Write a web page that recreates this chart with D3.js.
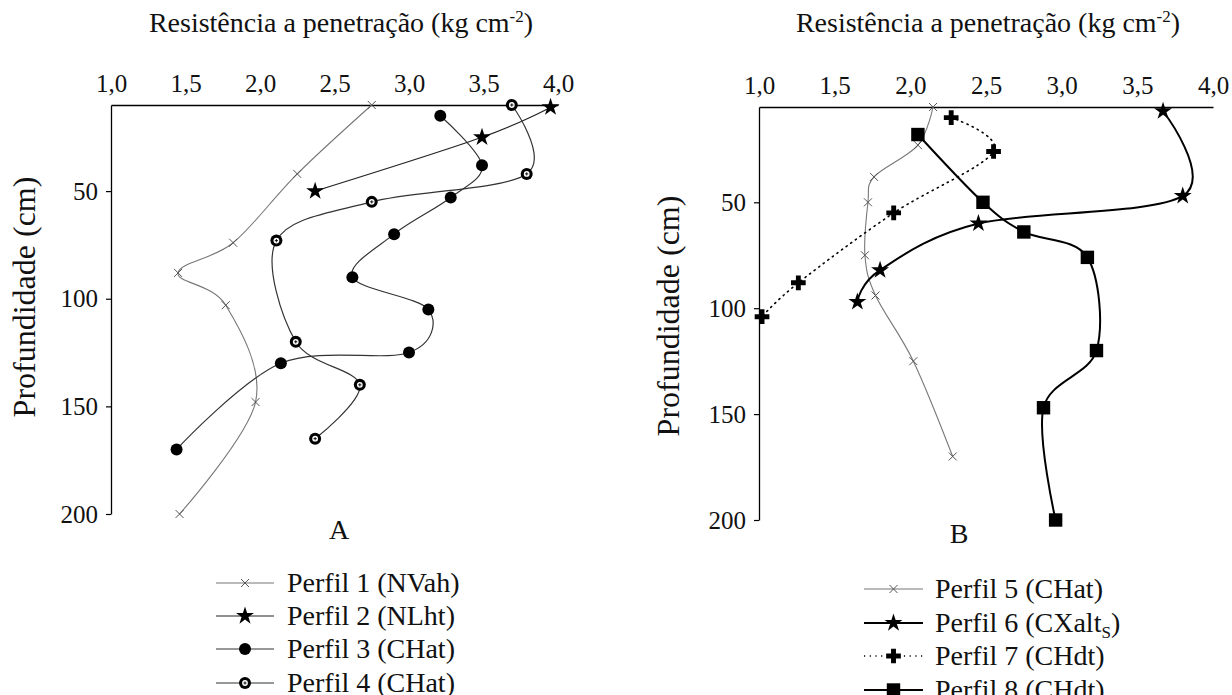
<!DOCTYPE html>
<html>
<head>
<meta charset="utf-8">
<script src="https://cdn.jsdelivr.net/npm/d3@7/dist/d3.min.js"></script>
<style>
  html, body { margin: 0; padding: 0; background: #fff; }
  svg, svg text { font-family: "Liberation Serif", "Times New Roman", Times, "DejaVu Serif", serif !important; }
</style>
</head>
<body>
<svg id="chart" width="1232" height="695"></svg>
<script>
// ---- data ----
const xTicks = [1.0, 1.5, 2.0, 2.5, 3.0, 3.5, 4.0];
const yTicks = [50, 100, 150, 200];
const xTitle = "Resistência a penetração (kg cm";
const yTitle = "Profundidade (cm)";

// Panel A
const p1Resist = [2.75, 2.25, 1.82, 1.45, 1.77, 1.97, 1.46];
const p1Depth  = [10, 42, 74, 88, 103, 148, 200];
const p2Resist = [3.95, 3.49, 2.37];
const p2Depth  = [11, 25, 50];
const p3Resist = [3.21, 3.49, 3.28, 2.90, 2.62, 3.13, 3.00, 2.14, 1.44];
const p3Depth  = [15, 38, 53, 70, 90, 105, 125, 130, 170];
const p4Resist = [3.69, 3.79, 2.75, 2.11, 2.24, 2.67, 2.37];
const p4Depth  = [10, 42, 55, 73, 120, 140, 165];

// Panel B
const p5Resist = [2.15, 2.05, 1.76, 1.72, 1.70, 1.77, 2.02, 2.28];
const p5Depth  = [5, 23, 38, 50, 75, 94, 125, 170];
const p6Resist = [3.67, 3.80, 2.45, 1.80, 1.65];
const p6Depth  = [7, 47, 60, 82, 97];
const p7Resist = [2.27, 2.55, 1.89, 1.26, 1.02];
const p7Depth  = [10, 26, 55, 88, 104];
const p8Resist = [2.05, 2.48, 2.75, 3.17, 3.23, 2.88, 2.96];
const p8Depth  = [18, 50, 64, 76, 120, 147, 200];

const namesA = ["Perfil 1 (NVah)", "Perfil 2 (NLht)", "Perfil 3 (CHat)", "Perfil 4 (CHat)"];
const namesB = ["Perfil 5 (CHat)", "Perfil 6 (CXalt", "Perfil 7 (CHdt)", "Perfil 8 (CHdt)"];

// ---- styles ----
const FONT = "'Liberation Serif', 'Times New Roman', Times, 'DejaVu Serif', serif";
const styles = {
  x:      { stroke: "#777", width: 1.1, dash: null, marker: "x" },
  star:   { stroke: "#222", width: 1.2, dash: null, marker: "star" },
  dot:    { stroke: "#333", width: 1.2, dash: null, marker: "dot" },
  ring:   { stroke: "#333", width: 1.2, dash: null, marker: "ring" },
  x5:     { stroke: "#777", width: 1.1, dash: null, marker: "x" },
  star6:  { stroke: "#000", width: 2.0, dash: null, marker: "star" },
  cross7: { stroke: "#000", width: 1.6, dash: "1.2,4.5", marker: "cross" },
  sq8:    { stroke: "#000", width: 2.0, dash: null, marker: "square" }
};

const svg = d3.select("#chart");
svg.append("rect").attr("width", 1232).attr("height", 695).attr("fill", "#fff");

const fmt = d => d.toFixed(1).replace(".", ",");

function drawMarker(g, type, cx, cy) {
  const m = g.append("g").attr("transform", `translate(${cx},${cy})`);
  if (type === "x") {
    m.append("path").attr("d", "M-4,-4L4,4M4,-4L-4,4")
      .attr("stroke", "#555").attr("stroke-width", 1).attr("fill", "none");
  } else if (type === "star") {
    m.append("path").attr("d", d3.symbol(d3.symbolStar, 100)()).attr("fill", "#000");
  } else if (type === "dot") {
    m.append("circle").attr("r", 6).attr("fill", "#000");
  } else if (type === "ring") {
    m.append("circle").attr("r", 6).attr("fill", "#000");
    m.append("circle").attr("r", 2.9).attr("fill", "#fff");
    m.append("path").attr("d", "M-1.6,0L1.6,0M0,-1.6L0,1.6").attr("stroke", "#000").attr("stroke-width", 0.9);
  } else if (type === "cross") {
    m.append("path").attr("d", d3.symbol(d3.symbolCross, 120)()).attr("fill", "#000");
  } else if (type === "square") {
    m.append("path").attr("d", d3.symbol(d3.symbolSquare, 180)()).attr("fill", "#000");
  }
}

function panel(opts) {
  const x = d3.scaleLinear().domain([1, 4]).range([opts.left, opts.right]);
  const y = d3.scaleLinear().domain([opts.dmin, 200]).range([opts.top, opts.bottom]);
  const g = svg.append("g").attr("font-family", FONT);

  // top axis
  const ax = g.append("g").attr("transform", `translate(0,${opts.top})`)
    .call(d3.axisTop(x).tickValues(xTicks).tickFormat(fmt).tickSize(0).tickSizeOuter(0).tickPadding(13));
  ax.attr("font-family", FONT);
  ax.select(".domain").attr("stroke", "#000").attr("stroke-width", 1.3);
  ax.selectAll("text").attr("font-size", 25).attr("fill", "#111").attr("font-family", FONT);

  // left axis
  const ay = g.append("g").attr("transform", `translate(${opts.left},0)`)
    .call(d3.axisLeft(y).tickValues(yTicks).tickSize(5).tickSizeOuter(0).tickPadding(8));
  ay.attr("font-family", FONT);
  ay.select(".domain").attr("stroke", "#000").attr("stroke-width", 1.3);
  ay.selectAll(".tick line").attr("stroke", "#000").attr("stroke-width", 1.2);
  ay.selectAll("text").attr("font-size", 25).attr("fill", "#111").attr("font-family", FONT);

  // titles
  const t = g.append("text").attr("x", opts.titleX).attr("y", 32).attr("font-family", FONT)
    .attr("text-anchor", "middle").attr("font-size", 28).attr("fill", "#111");
  t.append("tspan").text(xTitle);
  t.append("tspan").attr("font-size", 17).attr("dy", -10).text("-2");
  t.append("tspan").attr("dy", 10).text(")");

  g.append("text").attr("font-family", FONT)
    .attr("transform", `translate(${opts.yLabelX},${opts.yLabelY}) rotate(-90)`)
    .attr("text-anchor", "middle").attr("font-size", 32).attr("fill", "#111")
    .text(yTitle);

  g.append("text").attr("x", opts.letterX).attr("y", opts.letterY).attr("font-family", FONT)
    .attr("text-anchor", "middle").attr("font-size", 28).attr("fill", "#111").text(opts.letter);

  const line = d3.line().x(d => x(d[0])).y(d => y(d[1])).curve(d3.curveCatmullRom.alpha(0));

  opts.series.forEach(s => {
    const pts = s.xs.map((v, i) => [v, s.ys[i]]);
    const st = styles[s.style];
    g.append("path").attr("d", line(pts)).attr("fill", "none")
      .attr("stroke", st.stroke).attr("stroke-width", st.width)
      .attr("stroke-dasharray", st.dash).attr("stroke-linecap", st.dash ? "round" : "butt");
    pts.forEach(p => drawMarker(g, st.marker, x(p[0]), y(p[1])));
  });

  // legend
  opts.series.forEach((s, i) => {
    const st = styles[s.style];
    const cy = opts.legY[i];
    g.append("line").attr("x1", opts.legX1).attr("x2", opts.legX2).attr("y1", cy).attr("y2", cy)
      .attr("stroke", st.stroke).attr("stroke-width", st.width).attr("stroke-dasharray", st.dash);
    drawMarker(g, st.marker, (opts.legX1 + opts.legX2) / 2, cy);
    const tx = g.append("text").attr("x", opts.legTextX).attr("y", cy + 9).attr("font-family", FONT)
      .attr("font-size", 28).attr("fill", "#111");
    tx.append("tspan").text(s.name);
    if (s.sub) {
      tx.append("tspan").attr("font-size", 17).attr("dy", 6).text(s.sub);
      tx.append("tspan").attr("dy", -6).text(")");
    }
  });
}

panel({
  left: 111, right: 558, top: 105, bottom: 514, dmin: 10,
  titleX: 341, yLabelX: 35, yLabelY: 297, letter: "A", letterX: 339, letterY: 539,
  legX1: 216, legX2: 274, legTextX: 287, legY: [583, 616, 649, 683],
  series: [
    { xs: p1Resist, ys: p1Depth, style: "x", name: namesA[0] },
    { xs: p2Resist, ys: p2Depth, style: "star", name: namesA[1] },
    { xs: p3Resist, ys: p3Depth, style: "dot", name: namesA[2] },
    { xs: p4Resist, ys: p4Depth, style: "ring", name: namesA[3] }
  ]
});

panel({
  left: 759, right: 1213, top: 107, bottom: 520, dmin: 5,
  titleX: 988, yLabelX: 679, yLabelY: 316, letter: "B", letterX: 959, letterY: 543,
  legX1: 864, legX2: 923, legTextX: 935, legY: [589, 623, 656, 690],
  series: [
    { xs: p5Resist, ys: p5Depth, style: "x5", name: namesB[0] },
    { xs: p6Resist, ys: p6Depth, style: "star6", name: namesB[1], sub: "S" },
    { xs: p7Resist, ys: p7Depth, style: "cross7", name: namesB[2] },
    { xs: p8Resist, ys: p8Depth, style: "sq8", name: namesB[3] }
  ]
});
</script>
</body>
</html>
